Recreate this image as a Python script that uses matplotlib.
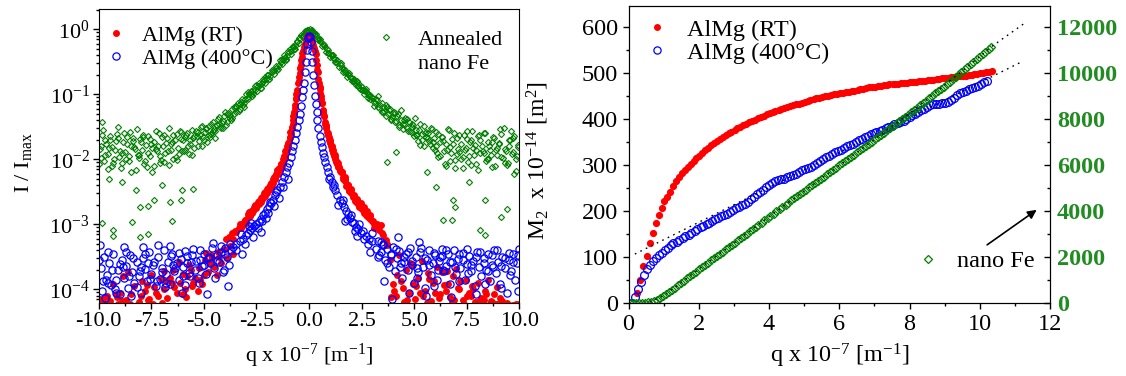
import numpy as np
import matplotlib
matplotlib.use("Agg")
import matplotlib.pyplot as plt
from matplotlib.lines import Line2D
from matplotlib.ticker import (MultipleLocator, LogLocator, LogFormatterSciNotation,
                               NullFormatter, FormatStrFormatter)

plt.rcParams["font.family"] = ["Liberation Serif", "DejaVu Serif"]
plt.rcParams["mathtext.fontset"] = "custom"
plt.rcParams["mathtext.rm"] = "Liberation Serif"
plt.rcParams["mathtext.it"] = "Liberation Serif:italic"
plt.rcParams["mathtext.bf"] = "Liberation Serif:bold"
plt.rcParams["axes.unicode_minus"] = False

RED = "#ff0000"
BLUE = "#0000ff"
GREEN = "#008000"
GREEN_TXT = "#228b22"

# ---- left panel: normalised profiles, q x 1e-7 [1/m] vs log10(I/Imax) ----
FE_Q = [
    -9.95, -9.85, -9.75, -9.65, -9.55, -9.45, -9.35, -9.25, -9.15, -9.05,
    -8.95, -8.85, -8.75, -8.65, -8.55, -8.45, -8.35, -8.25, -8.15, -8.05,
    -7.95, -7.85, -7.75, -7.65, -7.55, -7.45, -7.35, -7.25, -7.15, -7.05,
    -6.95, -6.85, -6.75, -6.65, -6.55, -6.45, -6.35, -6.25, -6.15, -6.05,
    -9.9, -9.7, -9.5, -9.3, -9.1, -8.9, -8.7, -8.5, -8.3, -8.1,
    -7.9, -7.7, -7.5, -7.3, -7.1, -6.9, -6.7, -6.5, -6.3, -6.1,
    -9.98, -9.88, -9.78, -9.68, -9.58, -9.48, -9.38, -9.28, -9.18, -9.08,
    -8.98, -8.88, -8.78, -8.68, -8.58, -8.48, -8.38, -8.28, -8.18, -8.08,
    -7.98, -7.88, -7.78, -7.68, -7.58, -7.48, -7.38, -7.28, -7.18, -7.08,
    -6.98, -6.88, -6.78, -6.68, -6.58, -6.48, -6.38, -6.28, -6.18, -6.08,
    -5.95, -5.85, -5.75, -5.65, -5.55, -5.45, -5.35, -5.25, -5.15, -5.05,
    -4.95, -4.85, -4.75, -4.65, -4.55, -4.45, -4.35, -4.25, -4.15, -4.05,
    -3.95, -3.85, -3.75, -3.65, -3.55, -3.45, -3.35, -3.25, -3.15, -3.05,
    -5.9, -5.7, -5.5, -5.3, -5.1, -4.9, -4.7, -4.5, -4.3, -4.1, -3.9, -3.7, -3.5, -3.3, -3.1,
    -5.98, -5.88, -5.78, -5.68, -5.58, -5.48, -5.38, -5.28, -5.18, -5.08,
    -4.98, -4.88, -4.78, -4.68, -4.58, -4.48, -4.38, -4.28, -4.18, -4.08,
    -3.98, -3.88, -3.78, -3.68, -3.58, -3.48, -3.38, -3.28, -3.18, -3.08,
    -2.95, -2.85, -2.75, -2.65, -2.55, -2.45, -2.35, -2.25, -2.15, -2.05,
    -1.95, -1.85, -1.75, -1.65, -1.55, -1.45, -1.35, -1.25, -1.15, -1.05,
    -0.95, -0.85, -0.75, -0.65, -0.55, -0.45, -0.35, -0.25, -0.15, -0.05,
    0.05, 0.15, 0.25, 0.35, 0.45, 0.55, 0.65, 0.75, 0.85, 0.95,
    1.05, 1.15, 1.25, 1.35, 1.45, 1.55, 1.65, 1.75, 1.85, 1.95,
    2.05, 2.15, 2.25, 2.35, 2.45, 2.55, 2.65, 2.75, 2.85, 2.95,
    -2.9, -2.7, -2.5, -2.3, -2.1, -1.9, -1.7, -1.5, -1.3, -1.1,
    -0.9, -0.7, -0.5, -0.3, -0.1, 0.1, 0.3, 0.5, 0.7, 0.9,
    1.1, 1.3, 1.5, 1.7, 1.9, 2.1, 2.3, 2.5, 2.7, 2.9,
    -2.98, -2.88, -2.78, -2.68, -2.58, -2.48, -2.38, -2.28, -2.18, -2.08,
    -1.98, -1.88, -1.78, -1.68, -1.58, -1.48, -1.38, -1.28, -1.18, -1.08,
    -0.98, -0.88, -0.78, -0.68, -0.58, -0.48, -0.38, -0.28, -0.18, -0.08,
    0.02, 0.12, 0.22, 0.32, 0.42, 0.52, 0.62, 0.72, 0.82, 0.92,
    1.02, 1.12, 1.22, 1.32, 1.42, 1.52, 1.62, 1.72, 1.82, 1.92,
    2.02, 2.12, 2.22, 2.32, 2.42, 2.52, 2.62, 2.72, 2.82, 2.92,
    3.05, 3.15, 3.25, 3.35, 3.45, 3.55, 3.65, 3.75, 3.85, 3.95,
    4.05, 4.15, 4.25, 4.35, 4.45, 4.55, 4.65, 4.75, 4.85, 4.95,
    5.05, 5.15, 5.25, 5.35, 5.45, 5.55, 5.65, 5.75, 5.85, 5.95,
    3.1, 3.3, 3.5, 3.7, 3.9, 4.1, 4.3, 4.5, 4.7, 4.9, 5.1, 5.3, 5.5, 5.7, 5.9,
    3.08, 3.18, 3.28, 3.38, 3.48, 3.58, 3.68, 3.78, 3.88, 3.98,
    4.08, 4.18, 4.28, 4.38, 4.48, 4.58, 4.68, 4.78, 4.88, 4.98,
    5.08, 5.18, 5.28, 5.38, 5.48, 5.58, 5.68, 5.78, 5.88, 5.98,
    6.05, 6.15, 6.25, 6.35, 6.45, 6.55, 6.65, 6.75, 6.85, 6.95,
    7.05, 7.15, 7.25, 7.35, 7.45, 7.55, 7.65, 7.75, 7.85, 7.95,
    8.05, 8.15, 8.25, 8.35, 8.45, 8.55, 8.65, 8.75, 8.85, 8.95,
    9.05, 9.15, 9.25, 9.35, 9.45, 9.55, 9.65, 9.75, 9.85, 9.95,
    6.1, 6.3, 6.5, 6.7, 6.9, 7.1, 7.3, 7.5, 7.7, 7.9,
    8.1, 8.3, 8.5, 8.7, 8.9, 9.1, 9.3, 9.5, 9.7, 9.9,
    6.02, 6.12, 6.22, 6.32, 6.42, 6.52, 6.62, 6.72, 6.82, 6.92,
    7.02, 7.12, 7.22, 7.32, 7.42, 7.52, 7.62, 7.72, 7.82, 7.92,
    8.02, 8.12, 8.22, 8.32, 8.42, 8.52, 8.62, 8.72, 8.82, 8.92,
    9.02, 9.12, 9.22, 9.32, 9.42, 9.52, 9.62, 9.72, 9.82, 9.92,
    -9.83, -9.83, -9.33, -9.3, -8.44, -8.04, -7.65, -8.22, -7.37, -8.04,
    -7.65, -6.61, -6.53, -6.1, -5.51, -6.02, -9.5, -8.9, -7.0, 3.73,
    4.15, 6.02, 6.86, 6.95, 6.36, 6.78, 8.14, 8.39, 9.15, 9.41,
    9.75, 8.39, 7.6, 5.6,
]
FE_LOG = [
    -1.84, -1.63, -2.02, -1.77, -1.92, -1.71, -2.10, -1.86, -1.61, -1.97,
    -2.14, -1.74, -1.89, -1.66, -2.03, -1.80, -1.72, -2.17, -1.93, -1.69,
    -1.85, -2.07, -1.78, -1.64, -1.95, -2.19, -1.73, -1.87, -1.59, -2.01,
    -1.79, -1.91, -1.68, -2.09, -1.76, -1.62, -1.96, -1.83, -1.57, -1.88,
    -1.98, -1.70, -1.82, -2.06, -1.67, -1.90, -2.00, -1.58, -1.81, -1.94,
    -1.65, -2.12, -1.76, -1.84, -2.05, -1.62, -1.87, -1.73, -2.01, -1.69,
    -2.08, -1.79, -1.55, -1.93, -2.15, -1.64, -1.81, -1.99, -1.72, -1.50,
    -1.87, -2.05, -1.60, -1.76, -1.95, -2.20, -1.67, -1.84, -1.54, -1.98,
    -1.73, -1.62, -2.02, -1.90, -1.69, -1.83, -2.10, -1.57, -1.79, -1.95,
    -1.66, -2.04, -1.75, -1.52, -1.86, -1.99, -1.71, -1.61, -1.92, -1.58,
    -1.88, -1.62, -1.79, -1.70, -1.55, -1.83, -1.64, -1.72, -1.51, -1.66,
    -1.58, -1.74, -1.49, -1.61, -1.43, -1.57, -1.38, -1.50, -1.44, -1.33,
    -1.47, -1.29, -1.36, -1.22, -1.31, -1.18, -1.25, -1.12, -1.16, -1.07,
    -1.66, -1.92, -1.68, -1.58, -1.80, -1.52, -1.65, -1.54, -1.45, -1.52, -1.30, -1.40, -1.21, -1.15, -1.20,
    -1.70, -1.85, -1.60, -1.76, -1.93, -1.64, -1.57, -1.80, -1.62, -1.49,
    -1.71, -1.53, -1.63, -1.45, -1.56, -1.68, -1.47, -1.35, -1.52, -1.41,
    -1.28, -1.42, -1.32, -1.37, -1.20, -1.28, -1.14, -1.22, -1.08, -1.13,
    -1.06, -1.00, -0.99, -0.93, -0.94, -0.87, -0.86, -0.83, -0.78, -0.77,
    -0.71, -0.72, -0.65, -0.63, -0.59, -0.55, -0.51, -0.48, -0.42, -0.41,
    -0.35, -0.33, -0.27, -0.25, -0.19, -0.15, -0.10, -0.07, -0.03, -0.01,
    0.00, -0.04, -0.06, -0.11, -0.14, -0.20, -0.23, -0.28, -0.31, -0.37,
    -0.39, -0.44, -0.46, -0.52, -0.54, -0.60, -0.61, -0.67, -0.69, -0.74,
    -0.75, -0.80, -0.82, -0.87, -0.88, -0.93, -0.95, -0.98, -1.02, -1.04,
    -0.97, -1.02, -0.86, -0.90, -0.74, -0.77, -0.64, -0.62, -0.46, -0.47,
    -0.31, -0.30, -0.14, -0.12, -0.01, -0.03, -0.09, -0.18, -0.24, -0.36,
    -0.40, -0.50, -0.52, -0.66, -0.68, -0.80, -0.79, -0.94, -0.92, -1.08,
    -1.00, -1.08, -0.95, -1.00, -0.88, -0.95, -0.83, -0.90, -0.76, -0.82,
    -0.70, -0.77, -0.63, -0.69, -0.56, -0.61, -0.48, -0.53, -0.40, -0.45,
    -0.33, -0.38, -0.26, -0.30, -0.18, -0.21, -0.09, -0.11, -0.02, -0.04,
    -0.02, -0.01, -0.09, -0.07, -0.17, -0.15, -0.26, -0.24, -0.35, -0.32,
    -0.43, -0.40, -0.50, -0.47, -0.58, -0.55, -0.65, -0.62, -0.73, -0.70,
    -0.80, -0.77, -0.86, -0.83, -0.92, -0.89, -0.99, -0.95, -1.05, -1.01,
    -1.05, -1.14, -1.09, -1.21, -1.13, -1.26, -1.17, -1.30, -1.22, -1.35,
    -1.27, -1.41, -1.31, -1.24, -1.46, -1.37, -1.52, -1.42, -1.58, -1.48,
    -1.36, -1.62, -1.55, -1.70, -1.49, -1.65, -1.59, -1.76, -1.53, -1.68,
    -1.18, -1.02, -1.28, -1.19, -1.39, -1.29, -1.50, -1.40, -1.56, -1.45, -1.63, -1.78, -1.60, -1.72, -1.82,
    -1.12, -1.08, -1.19, -1.16, -1.27, -1.20, -1.33, -1.24, -1.38, -1.29,
    -1.43, -1.34, -1.48, -1.40, -1.53, -1.46, -1.38, -1.57, -1.50, -1.64,
    -1.55, -1.72, -1.45, -1.61, -1.80, -1.58, -1.67, -1.52, -1.74, -1.85,
    -1.80, -1.61, -1.95, -1.72, -2.08, -1.86, -1.55, -1.91, -1.77, -2.13,
    -1.68, -1.89, -1.99, -1.63, -1.82, -2.04, -1.74, -1.57, -1.93, -1.85,
    -2.16, -1.70, -1.88, -1.60, -2.00, -1.79, -1.94, -1.66, -2.11, -1.83,
    -1.75, -1.97, -1.52, -1.87, -2.06, -1.71, -1.92, -1.64, -2.18, -1.81,
    -1.90, -1.66, -1.76, -2.02, -1.59, -1.84, -1.96, -1.69, -2.09, -1.78,
    -1.62, -1.91, -2.00, -1.73, -1.86, -1.54, -2.05, -1.80, -1.68, -1.95,
    -1.58, -1.97, -1.74, -1.65, -1.88, -2.10, -1.53, -1.81, -1.69, -2.01,
    -1.92, -1.62, -1.77, -2.14, -1.86, -1.56, -1.95, -1.71, -1.83, -2.07,
    -1.64, -1.90, -1.79, -1.59, -2.03, -1.73, -1.85, -2.12, -1.67, -1.94,
    -1.76, -1.61, -1.98, -1.84, -2.09, -1.70, -1.57, -1.89, -2.00, -1.78,
    -1.43, -2.98, -3.09, -3.18, -2.96, -3.19, -3.15, -2.48, -2.63, -2.73,
    -2.72, -2.66, -2.95, -2.63, -2.45, -2.48, -2.30, -2.35, -2.40, -2.04,
    -1.89, -2.43, -2.63, -2.73, -2.94, -2.94, -3.09, -3.17, -2.89, -2.76,
    -2.22, -2.63, -2.35, -2.20,
]

RT_Q = [
    -0.05, -0.1, -0.15, -0.2, -0.25, -0.3, -0.35, -0.4, -0.45, -0.5,
    -0.55, -0.6, -0.65, -0.7, -0.75, -0.8, -0.85, -0.9, -0.95, -1.0,
    -1.05, -1.1, -1.15, -1.2, -1.25, -1.3, -1.35, -1.4, -1.45, -1.5,
    -1.6, -1.7, -1.8, -1.9, -2.0, -2.1, -2.2, -2.3, -2.4, -2.5,
    -2.6, -2.7, -2.8, -2.9, -3.0, -3.1, -3.2, -3.35, -3.5, -3.65,
    -3.8, -3.95,
    -0.45, -0.6, -0.75, -0.9, -1.05, -1.2, -1.35, -1.5, -1.65, -1.8,
    -1.95, -2.1, -2.25, -2.4, -2.55, -2.7, -2.85, -3.0, -3.3, -3.6,
    -0.32, -0.38, -0.42, -0.48, -0.52, -0.58, -0.62, -0.68, -0.72, -0.78,
    -0.82, -0.88, -0.92, -0.98, -1.02, -1.08, -1.12, -1.18, -1.22, -1.28,
    -1.32, -1.38, -1.42, -1.48, -1.55, -1.62, -1.7, -1.78, -1.85, -1.92,
    -2.0, -2.08, -2.15, -2.22, -2.3, -2.38, -2.45, -2.52, -2.6, -2.68,
    -2.75, -2.82, -2.9, -3.05, -3.25, -3.45,
    0.05, 0.1, 0.15, 0.2, 0.25, 0.3, 0.35, 0.4, 0.45, 0.5,
    0.55, 0.6, 0.65, 0.7, 0.75, 0.8, 0.85, 0.9, 0.95, 1.0,
    1.05, 1.1, 1.15, 1.2, 1.25, 1.3, 1.35, 1.4, 1.45, 1.5,
    1.6, 1.7, 1.8, 1.9, 2.0, 2.1, 2.2, 2.3, 2.4, 2.5,
    2.6, 2.7, 2.8, 2.9, 3.0, 3.1, 3.2, 3.35, 3.5, 3.65,
    0.5, 0.65, 0.8, 0.95, 1.1, 1.25, 1.4, 1.55, 1.7, 1.85,
    2.0, 2.15, 2.3, 2.45, 2.6, 2.75, 2.9, 3.1, 3.4, 3.7,
    0.32, 0.38, 0.42, 0.48, 0.52, 0.58, 0.62, 0.68, 0.72, 0.78,
    0.82, 0.88, 0.92, 0.98, 1.02, 1.08, 1.12, 1.18, 1.22, 1.28,
    1.32, 1.38, 1.42, 1.48, 1.55, 1.62, 1.7, 1.78, 1.85, 1.92,
    2.0, 2.08, 2.15, 2.22, 2.3, 2.38, 2.45, 2.52, 2.6, 2.68,
    2.75, 2.82, 2.9, 3.05, 3.25, 3.45,
    -9.95, -9.8, -9.6, -9.45, -9.3, -9.15, -9.0, -8.85, -8.7, -8.6,
    -8.45, -8.3, -8.1, -7.95, -7.8, -7.65, -7.5, -7.35, -7.2, -7.05,
    -6.9, -6.75, -6.6, -6.45, -6.3, -6.15, -6.0, -5.85, -5.7, -5.55,
    -5.4, -5.25, -5.1, -4.95, -4.8, -4.65, -4.5, -4.35, -4.2, -4.05,
    -3.9, -3.75, -3.6, -6.9, -6.5, -6.2, -5.9, -5.6, -5.2, -4.9,
    -4.4, -4.7, -7.4, -8.2, -9.1, -7.0,
    -9.9, -9.7, -9.5, -9.2, -8.9, -8.5, -8.0, -7.7, -7.3, -6.8,
    -6.4, -6.0, -5.8, -5.5, -5.3, -5.0, -4.6, -4.3, -8.8, -7.6,
    3.7, 3.85, 4.0, 4.15, 4.3, 4.45, 4.6, 4.75, 4.9, 5.05,
    5.2, 5.35, 5.5, 5.65, 5.8, 5.95, 6.1, 6.25, 6.4, 6.55,
    6.7, 6.85, 7.0, 7.15, 7.3, 7.45, 7.6, 7.75, 7.9, 8.05,
    8.2, 8.35, 8.5, 8.65, 8.8, 8.95, 9.1, 3.9, 4.2, 4.5,
    4.8, 5.1, 5.4, 5.7, 6.0, 6.3, 6.6, 6.9, 7.2, 7.5,
    7.8, 8.1, 8.4, 8.7, 9.0, 9.4, 9.7, 10.0,
    4.05, 4.35, 4.65, 4.95, 5.3, 5.6, 5.9, 6.2, 6.5, 6.8,
    7.1, 7.4, 7.7, 8.0, 8.3, 8.6, 8.9, 9.2, 9.5, 9.85,
]
RT_LOG = [
    -0.09, -0.12, -0.17, -0.22, -0.28, -0.33, -0.42, -0.55, -0.68, -0.80,
    -0.93, -1.05, -1.17, -1.28, -1.40, -1.50, -1.60, -1.68, -1.74, -1.80,
    -1.86, -1.91, -1.96, -2.01, -2.06, -2.10, -2.13, -2.17, -2.20, -2.23,
    -2.29, -2.36, -2.42, -2.46, -2.52, -2.57, -2.60, -2.66, -2.69, -2.74,
    -2.77, -2.80, -2.86, -2.89, -2.93, -2.96, -3.02, -3.06, -3.10, -3.14,
    -3.19, -3.22,
    -0.60, -1.00, -1.33, -1.58, -1.79, -1.95, -2.07, -2.17, -2.27, -2.37,
    -2.44, -2.50, -2.58, -2.64, -2.70, -2.82, -2.81, -2.98, -3.00, -3.22,
    -0.36, -0.47, -0.60, -0.74, -0.82, -0.99, -1.08, -1.21, -1.30, -1.45,
    -1.52, -1.62, -1.65, -1.75, -1.76, -1.86, -1.88, -1.97, -1.99, -2.07,
    -2.08, -2.15, -2.14, -2.22, -2.22, -2.31, -2.30, -2.40, -2.39, -2.47,
    -2.46, -2.54, -2.52, -2.61, -2.59, -2.68, -2.66, -2.75, -2.73, -2.80,
    -2.79, -2.87, -2.84, -2.93, -3.05, -3.12,
    -0.10, -0.13, -0.18, -0.24, -0.29, -0.34, -0.47, -0.62, -0.76, -0.89,
    -1.02, -1.13, -1.24, -1.33, -1.43, -1.52, -1.58, -1.62, -1.70, -1.75,
    -1.80, -1.86, -1.90, -1.95, -2.00, -2.04, -2.08, -2.12, -2.16, -2.20,
    -2.27, -2.33, -2.40, -2.47, -2.52, -2.58, -2.64, -2.68, -2.73, -2.77,
    -2.82, -2.85, -2.89, -2.92, -2.95, -2.99, -3.04, -3.09, -3.16, -3.24,
    -0.98, -1.30, -1.48, -1.65, -1.80, -1.96, -2.05, -2.19, -2.28, -2.40,
    -2.46, -2.57, -2.62, -2.72, -2.78, -2.88, -2.87, -3.05, -3.01, -3.30,
    -0.38, -0.55, -0.66, -0.82, -0.92, -1.07, -1.13, -1.27, -1.33, -1.46,
    -1.50, -1.60, -1.63, -1.71, -1.74, -1.83, -1.85, -1.92, -1.94, -2.02,
    -2.04, -2.10, -2.12, -2.18, -2.20, -2.30, -2.31, -2.41, -2.40, -2.49,
    -2.48, -2.56, -2.55, -2.63, -2.61, -2.70, -2.68, -2.76, -2.74, -2.82,
    -2.80, -2.87, -2.86, -2.95, -3.00, -3.13,
    -4.15, -4.20, -4.10, -4.18, -3.92, -4.12, -4.05, -3.80, -4.16, -3.73,
    -4.08, -3.95, -4.19, -3.88, -4.02, -4.17, -3.78, -3.97, -4.10, -3.84,
    -3.99, -4.14, -3.83, -3.70, -4.05, -3.90, -3.76, -4.12, -3.62, -3.95,
    -3.83, -3.68, -3.92, -3.55, -3.74, -3.47, -3.66, -3.42, -3.60, -3.38,
    -3.52, -3.33, -3.45, -3.72, -3.90, -3.58, -4.00, -3.71, -3.86, -3.44,
    -3.78, -3.60, -4.22, -4.24, -4.23, -4.21,
    -4.21, -4.12, -4.22, -4.07, -4.18, -4.22, -4.10, -3.93, -4.06, -3.88,
    -3.96, -4.08, -3.80, -3.90, -4.03, -3.78, -3.52, -3.50, -4.24, -4.15,
    -3.32, -3.55, -3.92, -4.10, -3.48, -3.98, -3.70, -4.05, -3.63, -4.15,
    -3.82, -3.57, -4.02, -3.75, -4.18, -3.88, -3.66, -4.08, -3.94, -3.72,
    -4.12, -3.80, -3.69, -4.00, -4.16, -3.86, -4.06, -3.95, -4.20, -3.90,
    -4.13, -4.02, -3.85, -4.18, -4.08, -3.96, -4.14, -4.12, -3.78, -4.20,
    -3.60, -3.95, -4.10, -3.84, -4.05, -3.74, -3.92, -4.17, -3.87, -4.11,
    -3.99, -4.22, -4.07, -4.19, -4.23, -4.21, -4.24, -4.22,
    -4.02, -3.88, -4.16, -3.92, -4.06, -4.21, -3.90, -4.14, -4.03, -4.19,
    -3.98, -4.24, -4.10, -4.20, -4.16, -4.23, -4.22, -4.18, -4.24, -4.23,
]

HT_Q = [
    0.0, -0.04, -0.08, -0.12, -0.16, -0.2, -0.25, -0.3, -0.35, -0.4,
    -0.45, -0.5, -0.55, -0.6, -0.67, -0.74, -0.81, -0.88, -0.95, -1.03,
    -1.11, -1.2, -1.3, -1.4, -1.5, -1.6, -1.7, -1.8, -1.9, -2.0,
    -2.1, -2.2, -2.3, -2.4, -2.5, -2.6, -2.7, -2.8, -2.9, -3.0,
    -3.15, -3.3, -3.45, -3.6,
    0.04, 0.08, 0.12, 0.16, 0.2, 0.24, 0.28, 0.32, 0.36, 0.4,
    0.45, 0.5, 0.55, 0.6, 0.66, 0.72, 0.78, 0.85, 0.92, 1.0,
    1.08, 1.16, 1.25, 1.35, 1.45, 1.55, 1.65, 1.75, 1.85, 1.95,
    2.05, 2.15, 2.25, 2.35, 2.45, 2.55, 2.7, 2.85, 3.0,
    -1.0, -1.25, -1.45, -1.65, -1.85, -2.05, -2.25, -2.45, -2.65, -2.85,
    -3.05, -3.25, -3.45, -2.3, -2.75, -3.2, -1.55, -1.95, 0.95, 1.2,
    1.4, 1.6, 1.8, 2.0, 2.2, 2.4, 2.6, 2.8, 3.0, 3.2,
    3.4, 1.7, 2.3, 2.9, 3.3,
    -9.95, -9.9, -9.85, -9.75, -9.7, -9.6, -9.5, -9.4, -9.3, -9.2,
    -9.1, -9.0, -8.9, -8.8, -8.7, -8.6, -8.5, -8.4, -8.3, -8.2,
    -8.1, -8.0, -7.9, -7.8, -7.7, -7.6, -7.5, -7.4, -7.3, -7.2,
    -7.1, -7.0, -6.9, -6.8, -6.7, -6.6, -6.5, -6.4, -6.3, -6.2,
    -6.1, -6.0, -5.9, -5.8, -5.7, -5.6, -5.5, -5.4, -5.3, -5.2,
    -5.1, -5.0, -4.9, -4.8, -4.7, -4.6, -4.5, -4.4, -4.3, -4.2,
    -4.1, -4.0, -3.9, -3.8, -3.7,
    -9.65, -9.25, -8.85, -8.45, -8.05, -7.65, -7.25, -6.85, -6.45, -6.05,
    -5.65, -5.25, -4.85, -4.45, -4.05, -3.85, -6.6, -5.9, -7.9, -8.7,
    -9.55,
    -9.98, -9.78, -9.58, -9.38, -9.18, -8.98, -8.78, -8.58, -8.38, -8.18,
    -7.98, -7.78, -7.58, -7.38, -7.18, -6.98, -6.78, -6.58, -6.38, -6.18,
    -5.98, -5.78, -5.58, -5.38, -5.18, -4.98, -4.78, -4.58, -4.38, -4.18,
    -3.98, -3.78,
    3.3, 3.4, 3.5, 3.6, 3.7, 3.8, 3.9, 4.0, 4.1, 4.2,
    4.3, 4.4, 4.5, 4.6, 4.7, 4.8, 4.9, 5.0, 5.1, 5.2,
    5.3, 5.4, 5.5, 5.6, 5.7, 5.8, 5.9, 6.0, 6.1, 6.2,
    6.3, 6.4, 6.5, 6.6, 6.7, 6.8, 6.9, 7.0, 7.1, 7.2,
    7.3, 7.4, 7.5, 7.6, 7.7, 7.8, 7.9, 8.0, 8.1, 8.2,
    8.3, 8.4, 8.5, 8.6, 8.7, 8.8, 8.9, 9.0, 9.1, 9.2,
    9.3, 9.4, 9.5, 9.6, 9.7, 9.8, 9.9, 10.0,
    3.55, 3.95, 4.35, 4.75, 5.15, 5.55, 5.95, 6.35, 6.75, 7.15,
    7.55, 7.95, 8.35, 8.75, 9.15, 9.55, 9.95, 4.25, 5.25, 6.25,
    3.32, 3.52, 3.72, 3.92, 4.12, 4.32, 4.52, 4.72, 4.92, 5.12,
    5.32, 5.52, 5.72, 5.92, 6.12, 6.32, 6.52, 6.72, 6.92, 7.12,
    7.32, 7.52, 7.72, 7.92, 8.12, 8.32, 8.52, 8.72, 8.92, 9.12,
    9.32, 9.52, 9.72, 9.92,
]
HT_LOG = [
    -0.10, -0.14, -0.22, -0.32, -0.50, -0.66, -0.82, -0.94, -1.04, -1.18,
    -1.30, -1.40, -1.50, -1.59, -1.70, -1.80, -1.88, -1.96, -2.05, -2.12,
    -2.19, -2.27, -2.35, -2.42, -2.48, -2.55, -2.62, -2.68, -2.72, -2.77,
    -2.82, -2.86, -2.92, -2.96, -2.99, -3.03, -3.06, -3.09, -3.13, -3.16,
    -3.22, -3.26, -3.31, -3.35,
    -0.12, -0.20, -0.33, -0.50, -0.70, -0.86, -1.02, -1.15, -1.28, -1.40,
    -1.52, -1.64, -1.73, -1.81, -1.90, -1.97, -2.04, -2.12, -2.20, -2.27,
    -2.35, -2.42, -2.48, -2.55, -2.62, -2.67, -2.73, -2.80, -2.84, -2.90,
    -2.96, -2.98, -3.04, -3.08, -3.13, -3.10, -3.18, -3.22, -3.26,
    -2.30, -2.42, -2.60, -2.72, -2.66, -2.90, -2.95, -3.05, -3.20, -3.02,
    -3.30, -3.15, -3.40, -3.12, -2.98, -3.45, -2.50, -2.82, -2.30, -2.40,
    -2.70, -2.62, -2.92, -2.85, -3.10, -3.00, -3.22, -3.30, -3.14, -3.38,
    -3.28, -2.95, -3.18, -3.42, -3.50,
    -3.32, -3.68, -4.02, -3.50, -4.13, -3.78, -3.60, -3.94, -3.45, -3.85,
    -3.70, -4.08, -3.55, -3.82, -3.64, -3.98, -3.48, -3.74, -3.90, -3.58,
    -3.80, -4.05, -3.52, -3.69, -3.88, -3.43, -3.76, -3.62, -3.95, -3.50,
    -3.84, -3.67, -3.40, -3.77, -3.58, -3.92, -3.46, -3.72, -3.60, -3.85,
    -3.54, -3.66, -3.93, -3.49, -3.75, -3.58, -3.38, -3.70, -3.82, -3.55,
    -3.64, -3.45, -3.76, -3.52, -3.60, -3.37, -3.68, -3.48, -3.58, -3.42,
    -3.73, -3.36, -3.50, -3.62, -3.40,
    -3.85, -4.00, -3.66, -4.10, -3.72, -3.60, -3.88, -3.97, -3.63, -4.06,
    -3.80, -3.91, -4.08, -3.82, -3.70, -3.95, -3.33, -3.41, -3.35, -3.42,
    -3.90,
    -3.55, -3.88, -3.42, -3.70, -4.05, -3.61, -3.35, -3.80, -3.52, -3.96,
    -3.66, -3.45, -3.84, -3.58, -3.32, -3.74, -3.90, -3.49, -3.68, -3.44,
    -3.80, -3.60, -3.48, -3.57, -3.40, -3.63, -3.50, -3.29, -3.55, -3.33,
    -3.46, -3.30,
    -3.25, -3.42, -3.30, -3.55, -3.38, -3.65, -3.47, -3.35, -3.72, -3.52,
    -3.41, -3.83, -3.58, -3.45, -3.70, -3.36, -3.62, -3.90, -3.50, -3.74,
    -3.43, -3.66, -3.98, -3.55, -3.40, -3.78, -3.60, -3.48, -3.86, -3.57,
    -3.38, -3.72, -3.64, -3.45, -3.92, -3.58, -3.40, -3.76, -3.53, -3.68,
    -3.44, -3.85, -3.61, -3.49, -3.72, -3.56, -3.95, -3.43, -3.66, -3.80,
    -3.52, -3.70, -3.46, -3.88, -3.62, -3.40, -3.75, -3.58, -3.92, -3.50,
    -3.67, -4.05, -3.55, -3.72, -3.45, -3.85, -3.60, -3.38,
    -3.88, -4.15, -3.60, -4.05, -3.82, -4.10, -3.95, -3.70, -4.12, -3.88,
    -3.75, -4.08, -3.92, -3.65, -3.98, -3.78, -4.02, -3.20, -3.28, -3.50,
    -3.48, -3.32, -3.60, -3.45, -3.38, -3.66, -3.50, -3.42, -3.56, -3.68,
    -3.36, -3.52, -3.62, -3.44, -3.70, -3.49, -3.40, -3.58, -3.66, -3.46,
    -3.55, -3.38, -3.62, -3.50, -3.43, -3.60, -3.72, -3.48, -3.39, -3.64,
    -3.52, -3.44, -3.58, -3.47,
]

# ---- right panel: M2 (x 1e-14 m^2) vs q; nano Fe on the right axis ----
RT_M_Q = [
    0.24, 0.33, 0.42, 0.52, 0.61, 0.69, 0.78, 0.86, 0.94, 1.02,
    1.10, 1.18, 1.27, 1.35, 1.43, 1.52, 1.60, 1.68, 1.77, 1.85,
    1.93, 2.02, 2.10, 2.18, 2.27, 2.35, 2.43, 2.52, 2.60, 2.68,
    2.77, 2.85, 2.93, 3.02, 3.10, 3.18, 3.27, 3.35, 3.43, 3.52,
    3.60, 3.68, 3.77, 3.85, 3.93, 4.02, 4.10, 4.18, 4.27, 4.35,
    4.43, 4.52, 4.60, 4.68, 4.77, 4.85, 4.93, 5.02, 5.10, 5.18,
    5.27, 5.35, 5.43, 5.52, 5.60, 5.68, 5.77, 5.85, 5.93, 6.02,
    6.10, 6.18, 6.27, 6.35, 6.43, 6.52, 6.60, 6.68, 6.77, 6.85,
    6.93, 7.02, 7.10, 7.18, 7.27, 7.35, 7.43, 7.52, 7.60, 7.68,
    7.77, 7.85, 7.93, 8.02, 8.10, 8.18, 8.27, 8.35, 8.43, 8.52,
    8.60, 8.68, 8.77, 8.85, 8.93, 9.02, 9.10, 9.18, 9.27, 9.35,
    9.43, 9.52, 9.60, 9.68, 9.77, 9.85, 9.93, 10.02, 10.10, 10.18,
    10.27, 10.34,
]
RT_M = [
    22, 51, 80, 103, 130, 152, 175, 192, 206, 222,
    232, 242, 255, 266, 275, 283, 290, 297, 303, 309,
    315, 321, 327, 333, 338, 343, 348, 352, 357, 361,
    365, 369, 373, 377, 381, 384, 387, 390, 393, 396,
    399, 402, 405, 408, 411, 413, 416, 418, 420, 422,
    424, 426, 428, 430, 432, 434, 436, 438, 440, 442,
    444, 446, 447, 449, 450, 451, 452, 454, 455, 456,
    457, 459, 460, 461, 462, 464, 465, 466, 468, 469,
    470, 471, 472, 473, 474, 475, 476, 476, 477, 477,
    478, 478, 479, 480, 481, 481, 482, 483, 484, 485,
    486, 486, 487, 488, 489, 489, 490, 491, 492, 493,
    494, 494, 495, 496, 497, 498, 499, 500, 501, 502,
    503, 505,
]

HT_M_Q = [
    0.10, 0.18, 0.27, 0.35, 0.43, 0.52, 0.60, 0.69, 0.77, 0.86,
    0.94, 1.03, 1.11, 1.20, 1.28, 1.37, 1.45, 1.54, 1.62, 1.71,
    1.79, 1.88, 1.96, 2.05, 2.13, 2.22, 2.30, 2.39, 2.47, 2.56,
    2.64, 2.73, 2.81, 2.90, 2.98, 3.07, 3.15, 3.24, 3.32, 3.41,
    3.49, 3.58, 3.66, 3.75, 3.83, 3.92, 4.00, 4.09, 4.17, 4.26,
    4.34, 4.43, 4.51, 4.60, 4.68, 4.77, 4.85, 4.94, 5.02, 5.11,
    5.19, 5.28, 5.36, 5.45, 5.53, 5.62, 5.70, 5.79, 5.87, 5.96,
    6.04, 6.13, 6.21, 6.30, 6.38, 6.47, 6.55, 6.64, 6.72, 6.81,
    6.89, 6.98, 7.06, 7.15, 7.23, 7.32, 7.40, 7.49, 7.57, 7.66,
    7.74, 7.83, 7.91, 8.00, 8.08, 8.17, 8.25, 8.34, 8.42, 8.51,
    8.59, 8.68, 8.76, 8.85, 8.93, 9.02, 9.10, 9.19, 9.27, 9.36,
    9.44, 9.53, 9.61, 9.70, 9.78, 9.87, 9.95, 10.04, 10.12, 10.21,
]
HT_M = [
    0, 14, 31, 47, 62, 74, 84, 92, 98, 104,
    110, 116, 121, 126, 130, 134, 138, 142, 146, 149,
    153, 158, 162, 165, 168, 172, 175, 179, 183, 186,
    189, 192, 195, 199, 202, 206, 209, 213, 216, 220,
    226, 232, 237, 242, 247, 253, 258, 262, 265, 267,
    269, 271, 274, 276, 278, 281, 285, 289, 292, 295,
    297, 300, 304, 309, 313, 317, 321, 325, 328, 331,
    334, 338, 341, 344, 347, 351, 355, 358, 361, 364,
    367, 370, 372, 374, 377, 380, 383, 386, 389, 392,
    395, 397, 400, 405, 409, 412, 415, 419, 423, 427,
    430, 432, 433, 434, 435, 436, 438, 442, 447, 453,
    457, 460, 462, 465, 467, 470, 473, 477, 481, 483,
]

FE_M_Q = [
    0.05, 0.13, 0.22, 0.30, 0.39, 0.47, 0.56, 0.64, 0.73, 0.81,
    0.90, 0.98, 1.07, 1.15, 1.24, 1.32, 1.41, 1.49, 1.58, 1.66,
    1.75, 1.83, 1.92, 2.00, 2.09, 2.17, 2.26, 2.34, 2.43, 2.51,
    2.60, 2.68, 2.77, 2.85, 2.94, 3.02, 3.11, 3.19, 3.28, 3.36,
    3.45, 3.53, 3.62, 3.70, 3.79, 3.87, 3.96, 4.04, 4.13, 4.21,
    4.30, 4.38, 4.47, 4.55, 4.64, 4.72, 4.81, 4.89, 4.98, 5.06,
    5.15, 5.23, 5.32, 5.40, 5.49, 5.57, 5.66, 5.74, 5.83, 5.91,
    6.00, 6.08, 6.17, 6.25, 6.34, 6.42, 6.51, 6.59, 6.68, 6.76,
    6.85, 6.93, 7.02, 7.10, 7.19, 7.27, 7.36, 7.44, 7.53, 7.61,
    7.70, 7.78, 7.87, 7.95, 8.04, 8.12, 8.21, 8.29, 8.38, 8.46,
    8.55, 8.63, 8.72, 8.80, 8.89, 8.97, 9.06, 9.14, 9.23, 9.31,
    9.40, 9.48, 9.57, 9.65, 9.74, 9.82, 9.91, 9.99, 10.08, 10.16,
    10.25, 10.33,
]
FE_M = [
    10, 10, 15, 15, 20, 30, 40, 60, 100, 160,
    230, 310, 400, 490, 580, 680, 780, 880, 980, 1080,
    1180, 1280, 1380, 1480, 1580, 1670, 1770, 1860, 1960, 2060,
    2160, 2250, 2350, 2450, 2550, 2640, 2740, 2830, 2930, 3020,
    3120, 3210, 3310, 3410, 3510, 3600, 3700, 3800, 3900, 3990,
    4090, 4180, 4280, 4370, 4470, 4560, 4660, 4750, 4850, 4940,
    5040, 5130, 5230, 5320, 5420, 5510, 5610, 5700, 5800, 5890,
    5990, 6080, 6180, 6270, 6370, 6460, 6560, 6650, 6750, 6840,
    6940, 7030, 7130, 7220, 7320, 7420, 7520, 7610, 7710, 7810,
    7910, 8000, 8100, 8200, 8300, 8400, 8500, 8600, 8710, 8810,
    8910, 9010, 9120, 9220, 9320, 9420, 9530, 9630, 9740, 9840,
    9950, 10060, 10170, 10270, 10380, 10490, 10600, 10710, 10820, 10930,
    11040, 11150,
]

# dotted fit lines
FIT_A_Q = [0.18, 11.2]
FIT_A_M = [107, 525]
FIT_B_Q = [0.6, 1.0, 2.0, 4.0, 6.0, 8.0, 10.0, 10.33, 11.32]
FIT_B_M = [50, 330, 1480, 3760, 5990, 8250, 10720, 11150, 12220]

DOTS = (0, (1.2, 3.2))

fig = plt.figure(figsize=(11.26, 3.76), dpi=100)

# ---------------- left panel ----------------
FS1 = 16
ax1 = fig.add_axes([0.0877, 0.1934, 0.3735, 0.7819])
ax1.set_yscale("log")
ax1.plot(FE_Q, 10 ** np.array(FE_LOG), ls="none", marker="D", ms=3.1,
         mfc="none", mec=GREEN, mew=0.8)
ax1.plot(RT_Q, 10 ** np.array(RT_LOG), ls="none", marker="o", ms=5.0,
         mfc=RED, mec=RED, mew=0)
ax1.plot(HT_Q, 10 ** np.array(HT_LOG), ls="none", marker="o", ms=5.2,
         mfc="none", mec=BLUE, mew=0.9)
ax1.set_xlim(-10, 10)
ax1.set_ylim(6.09e-5, 2.03)
ax1.xaxis.set_major_locator(MultipleLocator(2.5))
ax1.xaxis.set_minor_locator(MultipleLocator(1.25))
ax1.xaxis.set_major_formatter(FormatStrFormatter("%.1f"))
ax1.yaxis.set_major_locator(LogLocator(base=10, numticks=12))
ax1.yaxis.set_minor_locator(LogLocator(base=10, subs=np.arange(2, 10), numticks=12))
ax1.yaxis.set_major_formatter(LogFormatterSciNotation())
ax1.yaxis.set_minor_formatter(NullFormatter())
ax1.tick_params(which="both", direction="out", top=False, right=False,
                labelsize=FS1, width=1.0)
ax1.tick_params(which="major", length=4.5, pad=2)
ax1.tick_params(which="minor", length=2.5)
ax1.set_xlabel("q x 10$^{-7}$ [m$^{-1}$]", fontsize=FS1)
ax1.set_ylabel("I / I$_{\\mathrm{max}}$", fontsize=FS1)
ax1.xaxis.set_label_coords(0.5, -0.13)
ax1.yaxis.set_label_coords(-0.155, 0.48)

h_rt = Line2D([], [], ls="none", marker="o", ms=5.0, mfc=RED, mec=RED, mew=0)
h_ht = Line2D([], [], ls="none", marker="o", ms=5.2, mfc="none", mec=BLUE, mew=0.9)
h_fe = Line2D([], [], ls="none", marker="D", ms=3.1, mfc="none", mec=GREEN, mew=0.8)
h_none = Line2D([], [], ls="none")

leg1 = ax1.legend([h_rt, h_ht], ["AlMg (RT)", "AlMg (400°C)"], loc="upper left",
                  bbox_to_anchor=(0.0145, 0.945), frameon=False, fontsize=FS1,
                  handlelength=1.0, handletextpad=0.66, labelspacing=0.09,
                  borderpad=0, borderaxespad=0)
ax1.add_artist(leg1)
ax1.legend([h_fe, h_none], ["Annealed", "nano Fe"], loc="upper left",
           bbox_to_anchor=(0.656, 0.933), frameon=False, fontsize=FS1,
           handlelength=1.0, handletextpad=0.95, labelspacing=0.18,
           borderpad=0, borderaxespad=0)

# ---------------- right panel ----------------
FS2 = 17.5
ax2 = fig.add_axes([0.5582, 0.1934, 0.3743, 0.7906])
ax2.plot(RT_M_Q, RT_M, ls="none", marker="o", ms=5.2, mfc=RED, mec=RED, mew=0)
ax2.plot(HT_M_Q, HT_M, ls="none", marker="o", ms=5.6, mfc="none", mec=BLUE, mew=0.9)
ax2.plot(FIT_A_Q, FIT_A_M, color="black", ls=DOTS, lw=1.0)
ax2.set_xlim(0, 12)
ax2.set_ylim(0, 646)
ax2.xaxis.set_major_locator(MultipleLocator(2))
ax2.xaxis.set_minor_locator(MultipleLocator(1))
ax2.yaxis.set_major_locator(MultipleLocator(100))
ax2.yaxis.set_minor_locator(MultipleLocator(50))
ax2.tick_params(which="both", direction="out", top=False, right=False,
                labelsize=FS2, width=1.0)
ax2.tick_params(which="major", length=4.5, pad=3)
ax2.tick_params(which="minor", length=2.5)
ax2.set_xlabel("q x 10$^{-7}$ [m$^{-1}$]", fontsize=FS2)
ax2.set_ylabel("M$_2$  x 10$^{-14}$ [m$^2$]", fontsize=17)
ax2.xaxis.set_label_coords(0.5, -0.13)
ax2.yaxis.set_label_coords(-0.185, 0.48)

ax2.annotate("", xy=(11.62, 203), xytext=(10.21, 127),
             arrowprops=dict(arrowstyle="-|>", color="black", lw=1.2,
                             mutation_scale=13, shrinkA=0, shrinkB=0))

ax3 = ax2.twinx()
ax3.plot(FE_M_Q, FE_M, ls="none", marker="D", ms=3.6, mfc="none", mec=GREEN, mew=0.9)
ax3.plot(FIT_B_Q, FIT_B_M, color="black", ls=DOTS, lw=1.0)
ax3.set_ylim(0, 12920)
ax3.set_yticks(range(0, 12001, 2000))
ax3.set_yticklabels([str(v) for v in range(0, 12001, 2000)], fontweight="bold",
                    color=GREEN_TXT, fontsize=FS2)
ax3.yaxis.set_minor_locator(MultipleLocator(1000))
ax3.tick_params(which="both", direction="in", width=1.0)
ax3.tick_params(which="major", length=4.5, pad=5)
ax3.tick_params(which="minor", length=2.5)

leg2 = ax2.legend([h_rt, h_ht], ["AlMg (RT)", "AlMg (400°C)"], loc="upper left",
                  bbox_to_anchor=(0.038, 0.958), frameon=False, fontsize=FS2,
                  handlelength=1.0, handletextpad=0.74, labelspacing=0.06,
                  borderpad=0, borderaxespad=0)
ax2.add_artist(leg2)
h_fe2 = Line2D([], [], ls="none", marker="D", ms=3.6, mfc="none", mec=GREEN, mew=0.9)
ax2.legend([h_fe2], ["nano Fe"], loc="center left", bbox_to_anchor=(0.6826, 0.142),
           frameon=False, fontsize=FS2, handlelength=1.0, handletextpad=0.69,
           borderpad=0, borderaxespad=0)

fig.savefig("out.png", dpi=100)
